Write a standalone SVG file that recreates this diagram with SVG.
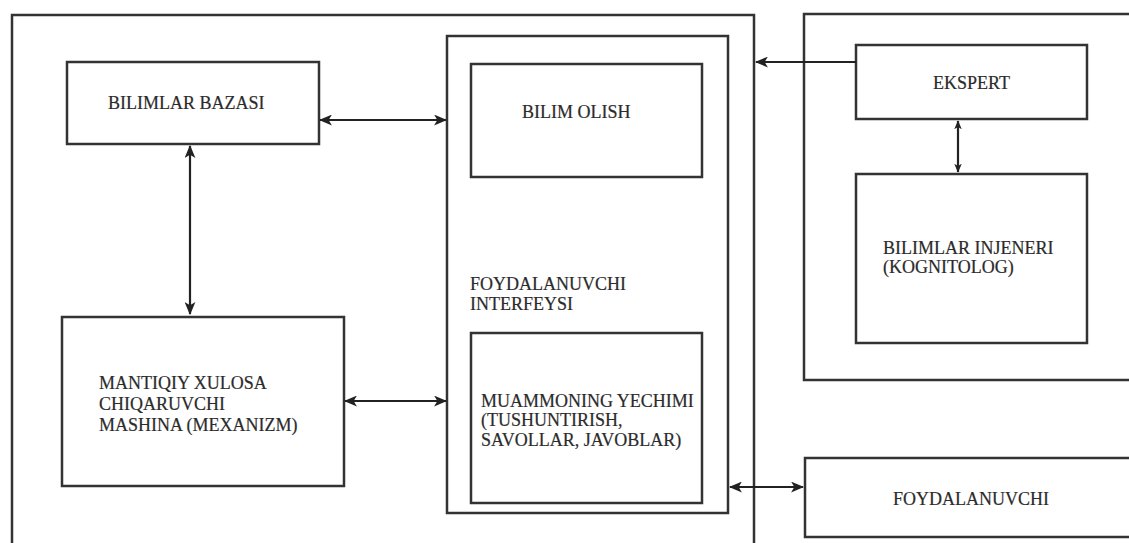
<svg xmlns="http://www.w3.org/2000/svg" width="1129" height="543" viewBox="0 0 1129 543">
  <style>
    .box { fill: none; stroke: #333; stroke-width: 2.5; }
    .lbl { font-family: "Liberation Serif", "Times New Roman", serif; font-size: 18px; fill: #2b2b2b; stroke: #2b2b2b; stroke-width: 0.2; }
    .conn { stroke: #222; stroke-width: 2.2; fill: none; }
  </style>
  <defs>
    <marker id="ah" viewBox="0 0 12 10" markerWidth="13" markerHeight="11" refX="11" refY="5" orient="auto-start-reverse" markerUnits="userSpaceOnUse">
      <path d="M0,0 L12,5 L0,10 L3,5 z" fill="#222"/>
    </marker>
    <marker id="ahs" viewBox="0 0 12 10" markerWidth="9" markerHeight="8" refX="11" refY="5" orient="auto-start-reverse" markerUnits="userSpaceOnUse">
      <path d="M0,0 L12,5 L0,10 L3,5 z" fill="#222"/>
    </marker>
  </defs>
  <rect width="1129" height="543" fill="#fff"/>

  <g id="system">
    <rect class="box" x="12" y="15" width="742" height="540"/>
  </g>
  <g id="external">
    <rect class="box" x="804" y="14" width="340" height="366"/>
  </g>

  <g id="bilimlar-bazasi">
    <rect class="box" x="67" y="62" width="252" height="82"/>
    <text class="lbl" x="108" y="109">BILIMLAR BAZASI</text>
  </g>

  <g id="mantiqiy">
    <rect class="box" x="62" y="317" width="282" height="169"/>
    <text class="lbl" x="99" y="389">MANTIQIY XULOSA</text>
    <text class="lbl" x="99" y="410">CHIQARUVCHI</text>
    <text class="lbl" x="99" y="431">MASHINA (MEXANIZM)</text>
  </g>

  <g id="interfeys">
    <rect class="box" x="447" y="36" width="281" height="477"/>
    <text class="lbl" x="470" y="290">FOYDALANUVCHI</text>
    <text class="lbl" x="470" y="310">INTERFEYSI</text>
  </g>

  <g id="bilim-olish">
    <rect class="box" x="471" y="64" width="231" height="113"/>
    <text class="lbl" x="522" y="118">BILIM OLISH</text>
  </g>

  <g id="muammo">
    <rect class="box" x="471" y="333" width="231" height="170"/>
    <text class="lbl" x="481" y="407">MUAMMONING YECHIMI</text>
    <text class="lbl" x="481" y="426">(TUSHUNTIRISH,</text>
    <text class="lbl" x="481" y="446">SAVOLLAR, JAVOBLAR)</text>
  </g>

  <g id="ekspert">
    <rect class="box" x="856" y="45" width="231" height="74"/>
    <text class="lbl" x="933" y="89">EKSPERT</text>
  </g>

  <g id="injener">
    <rect class="box" x="856" y="174" width="231" height="169"/>
    <text class="lbl" x="883" y="254">BILIMLAR INJENERI</text>
    <text class="lbl" x="883" y="273">(KOGNITOLOG)</text>
  </g>

  <g id="foydalanuvchi">
    <rect class="box" x="805" y="458" width="340" height="79"/>
    <text class="lbl" x="893" y="505">FOYDALANUVCHI</text>
  </g>

  <g id="connectors">
    <line class="conn" x1="320" y1="120" x2="446" y2="120" marker-start="url(#ah)" marker-end="url(#ah)"/>
    <line class="conn" x1="190" y1="146" x2="190" y2="314" marker-start="url(#ah)" marker-end="url(#ah)"/>
    <line class="conn" x1="345" y1="401" x2="446" y2="401" marker-start="url(#ah)" marker-end="url(#ah)"/>
    <line class="conn" x1="856" y1="62" x2="756" y2="62" marker-end="url(#ah)"/>
    <line class="conn" x1="958" y1="121" x2="958" y2="172" marker-start="url(#ahs)" marker-end="url(#ahs)"/>
    <line class="conn" x1="730" y1="487" x2="803" y2="487" marker-start="url(#ah)" marker-end="url(#ah)"/>
  </g>
</svg>
